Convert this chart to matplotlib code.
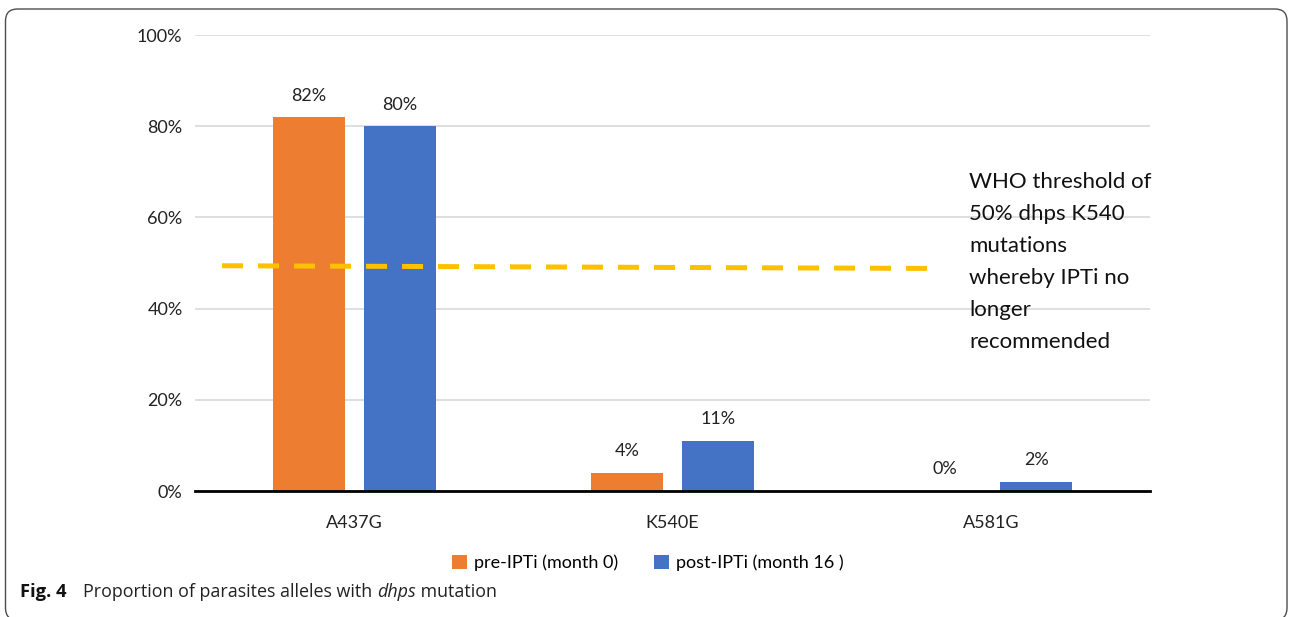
import matplotlib.pyplot as plt
from matplotlib.patches import FancyBboxPatch

# dhps mutation prevalence (%)
mutations = ["A437G", "K540E", "A581G"]
pre_ipti = [82, 4, 0]
post_ipti = [80, 11, 2]
series_names = ["pre-IPTi (month 0)", "post-IPTi (month 16 )"]

# hand-drawn WHO threshold line (start, end levels in %)
threshold_level = [49.4, 48.8]
threshold_note = "WHO threshold of\n50% dhps K540\nmutations\nwhereby IPTi no\nlonger\nrecommended"

y_ticks = [0, 20, 40, 60, 80, 100]

orange = "#ED7D31"
blue = "#4472C4"
gold = "#FFC000"

chart_font = "Lato"
caption_font = "Open Sans"
fs = 13

fig = plt.figure(figsize=(12.9, 6.17), dpi=100)

# rounded border around chart and caption (inches)
frame = FancyBboxPatch((0.055, -0.03), 12.815, 6.17 - 0.09 + 0.03,
                       boxstyle="round,pad=0,rounding_size=0.12",
                       transform=fig.dpi_scale_trans, facecolor="none",
                       edgecolor="#4d4d4d", linewidth=1.0, clip_on=False)
fig.patches.append(frame)

ax = fig.add_axes([195 / 1290, 1 - 491 / 617, 955 / 1290, 456 / 617])

x = list(range(len(mutations)))
bw = 0.226
off = 0.143
b1 = ax.bar([i - off for i in x], pre_ipti, bw, color=orange, label=series_names[0], zorder=3)
b2 = ax.bar([i + off for i in x], post_ipti, bw, color=blue, label=series_names[1], zorder=3)

for bars, vals in ((b1, pre_ipti), (b2, post_ipti)):
    for bar, v in zip(bars, vals):
        ax.annotate(f"{v}%", (bar.get_x() + bar.get_width() / 2, v),
                    xytext=(0, 15.5), textcoords="offset points",
                    ha="center", va="center", fontsize=fs,
                    family=chart_font, color="#222222")

# threshold line
ax.plot([-0.415, 1.84], threshold_level, color=gold, linewidth=3.6,
        linestyle=(0, (4.2, 3.0)), solid_capstyle="butt", zorder=4)
ax.text(1.932, 69.9, threshold_note, fontsize=16, family=chart_font,
        va="top", ha="left", linespacing=1.75, color="#111111")

ax.set_xlim(-0.5, 2.5)
ax.set_ylim(0, 100)
ax.set_yticks(y_ticks)
ax.set_yticklabels([f"{t}%" for t in y_ticks])
ax.set_xticks(x)
ax.set_xticklabels(mutations)
ax.tick_params(length=0, labelsize=fs, colors="#222222")
ax.tick_params(axis="y", pad=9)
ax.tick_params(axis="x", pad=17)
for lab in ax.get_xticklabels() + ax.get_yticklabels():
    lab.set_family(chart_font)

ax.grid(axis="y", color="#D9D9D9", linewidth=1.2, zorder=0)
ax.set_axisbelow(True)
for side in ["top", "right", "left"]:
    ax.spines[side].set_visible(False)
ax.spines["bottom"].set_linewidth(2.0)
ax.spines["bottom"].set_zorder(5)

leg = fig.legend(handles=[b1, b2], loc="center", bbox_to_anchor=(648 / 1290, 1 - 563 / 617),
                 ncol=2, frameon=False, handlelength=0.8, handleheight=0.8,
                 handletextpad=0.4, columnspacing=2.0,
                 prop={"family": chart_font, "size": fs})

# figure caption, built piece by piece so "dhps" can be italic
cap_y = 1 - 592 / 617
fig.text(20 / 1290, cap_y, "Fig. 4", fontsize=13.2, weight="bold",
         family=caption_font, va="center", ha="left", color="#111111")
pieces = [("Proportion of parasites alleles with ", "normal"),
          ("dhps", "italic"),
          (" mutation", "normal")]
renderer = fig.canvas.get_renderer()
cx = 83 / 1290
for txt, style in pieces:
    t = fig.text(cx, cap_y, txt, fontsize=12.9, family=caption_font, style=style,
                 va="center", ha="left", color="#222222")
    bb = t.get_window_extent(renderer)
    cx = bb.x1 / fig.bbox.width

fig.savefig("out.png", dpi=100)
